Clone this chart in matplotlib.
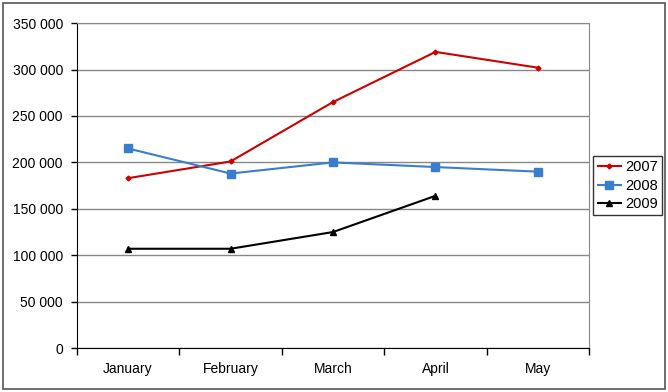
import matplotlib.pyplot as plt
from matplotlib.patches import Rectangle
from matplotlib.ticker import FuncFormatter, FixedLocator
import numpy as np

plt.rcParams['font.family'] = ['Liberation Sans', 'DejaVu Sans']

months = ['January', 'February', 'March', 'April', 'May']
sales_2007 = [183000, 201000, 265000, 319000, 302000]
sales_2008 = [215000, 188000, 200000, 195000, 190000]
sales_2009 = [107000, 107000, 125000, 164000]

fig = plt.figure(figsize=(6.68, 3.92), dpi=100, facecolor='white')
ax = fig.add_axes([0.115, 0.112, 0.767, 0.829])

x = np.arange(len(months))
ax.plot(x, sales_2007, color='#CC0000', lw=1.5, marker='D', ms=2.5, label='2007')
ax.plot(x, sales_2008, color='#3A7DCE', lw=1.5, marker='s', ms=6, label='2008')
ax.plot(x[:len(sales_2009)], sales_2009, color='black', lw=1.5, marker='^', ms=5, label='2009')

ax.set_xlim(-0.5, 4.5)
ax.set_ylim(0, 350000)
ax.set_yticks(np.arange(0, 350001, 50000))
ax.yaxis.set_major_formatter(FuncFormatter(lambda v, p: f'{int(v):,}'.replace(',', ' ')))
ax.set_xticks(x)
ax.set_xticklabels(months)
# Excel-style category ticks sit between the months
ax.xaxis.set_minor_locator(FixedLocator(np.arange(-0.5, 4.6, 1)))
ax.tick_params(axis='x', which='major', length=0, pad=10, labelsize=10)
ax.tick_params(axis='x', which='minor', length=5, width=1, color='black')
ax.tick_params(axis='y', length=4, width=1, labelsize=10, pad=6)

ax.grid(axis='y', color='#888888', lw=1)
ax.set_axisbelow(True)
for s in ['top', 'right']:
    ax.spines[s].set_color('#888888')
for s in ['left', 'bottom']:
    ax.spines[s].set_color('black')

leg = ax.legend(loc='center left', bbox_to_anchor=(1.008, 0.5), frameon=True,
                fancybox=False, edgecolor='black', fontsize=10.5,
                handlelength=1.6, handletextpad=0.3, borderpad=0.3,
                labelspacing=0.3, borderaxespad=0)
leg.get_frame().set_linewidth(1)

fig.patches.append(Rectangle((0.005, 0.008), 0.99, 0.984, transform=fig.transFigure,
                             fill=False, edgecolor='#555555', lw=1.2))

fig.savefig('out.png', dpi=100)
